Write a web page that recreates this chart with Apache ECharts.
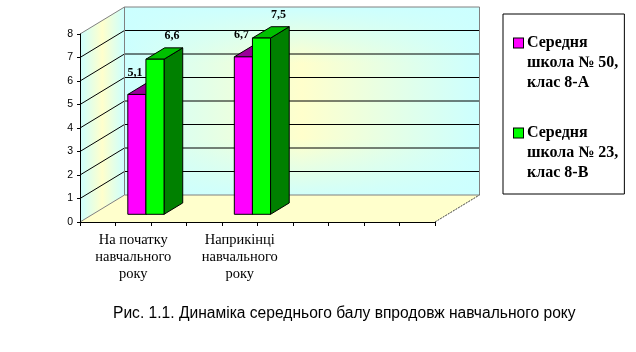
<!DOCTYPE html>
<html>
<head>
<meta charset="utf-8">
<script src="https://cdn.jsdelivr.net/npm/echarts@6/dist/echarts.min.js"></script>
<style>
  html, body { margin: 0; padding: 0; background: #fff; }
  #chart { width: 636px; height: 352px; }
</style>
</head>
<body>
<div id="chart"></div>
<script>
// data
const categories = ["На початку\nнавчального\nроку", "Наприкінці\nнавчального\nроку"];
const seriesNames = ["Середня\nшкола № 50,\nклас 8-А", "Середня\nшкола № 23,\nклас 8-В"];
const school50 = [5.1, 6.7];
const school23 = [6.6, 7.5];
const yMax = 8;
const caption = "Рис. 1.1. Динаміка середнього балу впродовж навчального року";

// layout of the fake 3d box (pixels / axis units)
const X_MAX = 10;          // floor is 10 tick-steps wide
const CAT_START = 1.5;
const CAT_STEP = 3;
const BAR_W = 0.51;
const DEPTH = [44.5, -27]; // front plane -> back wall
const FRONT = 0.285;       // bar front face depth
const BACK = 0.705;        // bar back face depth

const styles = [
  { front: "#ff00ff", top: "#990099", side: "#800080", lx: -2, ly: -22 },
  { front: "#00ff00", top: "#00c000", side: "#008000", lx: 17, ly: -23 },
];

const CYAN = "#ccffff";
const YEL = "#ffffcc";

function wallsRenderer(params, api) {
  const p = (x, y, d) => {
    const q = api.coord([x, y]);
    return [q[0] + DEPTH[0] * d, q[1] + DEPTH[1] * d];
  };
  const fl = p(0, 0, 0), fr = p(X_MAX, 0, 0), tl = p(0, yMax, 0);
  const bfl = p(0, 0, 1), bfr = p(X_MAX, 0, 1), btl = p(0, yMax, 1), btr = p(X_MAX, yMax, 1);
  const hGrad = new echarts.graphic.LinearGradient(0, 0, 1, 0, [
    { offset: 0, color: CYAN }, { offset: 0.5, color: YEL }, { offset: 1, color: CYAN },
  ]);
  const vGrad = new echarts.graphic.LinearGradient(0, 0, 0, 1, [
    { offset: 0, color: "rgba(204,255,255,1)" },
    { offset: 0.3, color: "rgba(204,255,255,0)" },
    { offset: 0.7, color: "rgba(204,255,255,0)" },
    { offset: 1, color: "rgba(204,255,255,0.9)" },
  ]);
  const kids = [];
  kids.push({ type: "polygon", shape: { points: [fl, bfl, btl, tl] }, style: { fill: hGrad } });
  kids.push({ type: "rect", shape: { x: btl[0], y: btl[1], width: btr[0] - btl[0], height: bfl[1] - btl[1] }, style: { fill: hGrad } });
  kids.push({ type: "rect", shape: { x: btl[0], y: btl[1], width: btr[0] - btl[0], height: bfl[1] - btl[1] }, style: { fill: vGrad } });
  kids.push({ type: "polygon", shape: { points: [fl, fr, bfr, bfl] }, style: { fill: YEL } });
  for (let v = 1; v < yMax; v++) {
    const a = p(0, v, 0), b = p(0, v, 1), c = p(X_MAX, v, 1);
    kids.push({ type: "polyline", shape: { points: [a, b, c] }, style: { stroke: "#000", lineWidth: 1, fill: null } });
  }
  const gray = { stroke: "#808080", lineWidth: 1, fill: null };
  kids.push({ type: "polyline", shape: { points: [tl, btl, btr, bfr, bfl, btl] }, style: gray });
  kids.push({ type: "line", shape: { x1: fl[0], y1: fl[1], x2: bfl[0], y2: bfl[1] }, style: gray });
  kids.push({ type: "line", shape: { x1: fr[0], y1: fr[1], x2: bfr[0], y2: bfr[1] }, style: { stroke: "#404040", lineWidth: 1, lineDash: [2, 1] } });
  return { type: "group", children: kids };
}

function barRenderer(s) {
  return function (params, api) {
    const i = api.value(0), v = api.value(1);
    const c = CAT_START + CAT_STEP * i;
    const x0 = s === 0 ? c - BAR_W : c;
    const x1 = s === 0 ? c : c + BAR_W;
    const b = api.coord([x0, 0]);
    const t = api.coord([x1, v]);
    const L = b[0], B = b[1], R = t[0], T = t[1];
    const fx = DEPTH[0] * FRONT, fy = DEPTH[1] * FRONT;
    const bx = DEPTH[0] * BACK, by = DEPTH[1] * BACK;
    const st = styles[s];
    const line = { stroke: "#000", lineWidth: 1 };
    return {
      type: "group",
      children: [
        { type: "polygon", shape: { points: [[R + fx, T + fy], [R + bx, T + by], [R + bx, B + by], [R + fx, B + fy]] },
          style: Object.assign({ fill: st.side }, line) },
        { type: "polygon", shape: { points: [[L + fx, T + fy], [R + fx, T + fy], [R + bx, T + by], [L + bx, T + by]] },
          style: Object.assign({ fill: st.top }, line) },
        { type: "rect", shape: { x: L + fx, y: T + fy, width: R - L, height: B - T },
          style: Object.assign({ fill: st.front }, line) },
        { type: "text", x: (L + R) / 2 + fx + st.lx, y: T + fy + st.ly,
          style: { text: String(v).replace(".", ","), font: 'bold 12px "Liberation Serif"', fill: "#000", align: "center", verticalAlign: "middle" } },
      ],
    };
  };
}

function legendText(name) {
  const idx = seriesNames.indexOf(name);
  return name.split("\n").map((ln, j) => (j === 0 ? "{m" + idx + "|}{g|}" : "{i|}") + "{t|" + ln + "}").join("\n");
}

const LH = 20;
const chart = echarts.init(document.getElementById("chart"), null, { renderer: "canvas" });
chart.setOption({
  animation: false,
  backgroundColor: "#fff",
  title: {
    text: caption,
    left: 113,
    top: 306,
    padding: 0,
    textStyle: { fontFamily: "Liberation Sans", fontSize: 15.6, fontWeight: "normal", color: "#000" },
  },
  legend: {
    orient: "vertical",
    left: 503,
    top: 14,
    padding: [19, 6, 11, 6],
    borderColor: "#000",
    borderWidth: 1,
    itemGap: 30,
    itemWidth: 0,
    itemHeight: 0,
    itemStyle: { opacity: 0, borderWidth: 0 },
    data: seriesNames,
    formatter: legendText,
    textStyle: {
      lineHeight: LH,
      rich: {
        m0: { width: 9, height: 9, lineHeight: LH, backgroundColor: styles[0].front, borderColor: "#000", borderWidth: 1 },
        m1: { width: 9, height: 9, lineHeight: LH, backgroundColor: styles[1].front, borderColor: "#000", borderWidth: 1 },
        g: { width: 4, lineHeight: LH },
        i: { width: 13, lineHeight: LH },
        t: { fontFamily: "Liberation Serif", fontWeight: "bold", fontSize: 16, lineHeight: LH, color: "#000" },
      },
    },
  },
  grid: { left: 80, right: 201, top: 34, bottom: 130, containLabel: false, outerBoundsMode: "none" },
  xAxis: [
    {
      type: "value", min: 0, max: X_MAX, interval: 1, z: 3,
      axisLine: { show: true, lineStyle: { color: "#000", width: 1 } },
      axisTick: { show: true, length: 4, lineStyle: { color: "#000" } },
      axisLabel: { show: false },
      splitLine: { show: false },
    },
    {
      type: "value", min: 0, max: X_MAX, interval: CAT_STEP / 2, position: "bottom",
      axisLine: { show: false }, axisTick: { show: false }, splitLine: { show: false },
      axisLabel: {
        margin: 10,
        fontFamily: "Liberation Serif", fontSize: 14.5, lineHeight: 17, color: "#000",
        formatter: (v) => {
          const k = (v - CAT_START) / CAT_STEP;
          const r = Math.round(k);
          return Math.abs(k - r) < 1e-6 && categories[r] ? categories[r] : "";
        },
      },
    },
  ],
  yAxis: {
    type: "value", min: 0, max: yMax, interval: 1, z: 3,
    axisLine: { show: true, lineStyle: { color: "#000", width: 1 } },
    axisTick: { show: true, length: 3, lineStyle: { color: "#000" } },
    axisLabel: { fontFamily: "Liberation Sans", fontSize: 10.5, color: "#000", margin: 7 },
    splitLine: { show: false },
  },
  series: [
    { type: "custom", name: "walls", z: 0, silent: true, clip: false, xAxisIndex: 0, data: [[0, 0]], renderItem: wallsRenderer },
    { type: "custom", name: seriesNames[0], z: 4, clip: false, xAxisIndex: 0, data: school50.map((v, i) => [i, v]), renderItem: barRenderer(0) },
    { type: "custom", name: seriesNames[1], z: 5, clip: false, xAxisIndex: 0, data: school23.map((v, i) => [i, v]), renderItem: barRenderer(1) },
  ],
});
</script>
</body>
</html>
